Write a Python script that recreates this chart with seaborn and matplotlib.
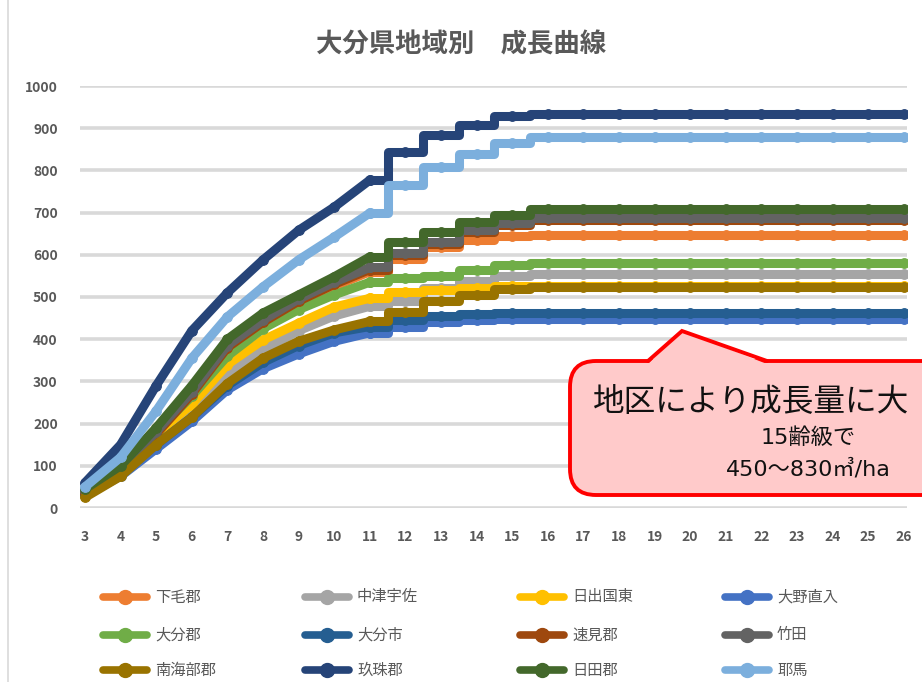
import matplotlib
matplotlib.use("Agg")
import matplotlib.pyplot as plt
import seaborn as sns
import pandas as pd
from matplotlib.lines import Line2D
from matplotlib.patches import FancyBboxPatch, Polygon

sns.set_theme(style="white")
plt.rcParams['font.family'] = ['Noto Sans CJK JP', 'DejaVu Sans']

title = "大分県地域別　成長曲線"
ages = [3, 4, 5, 6, 7, 8, 9, 10, 11, 12, 13, 14, 15, 16, 17, 18, 19, 20, 21, 22, 23, 24, 25, 26]
y_ticks = [0, 100, 200, 300, 400, 500, 600, 700, 800, 900, 1000]

labels = ["下毛郡", "中津宇佐", "日出国東", "大野直入",
          "大分郡", "大分市", "速見郡", "竹田",
          "南海部郡", "玖珠郡", "日田郡", "耶馬"]

v_shimoge = [40, 95, 180, 265, 370, 435, 485, 525, 560, 590, 618, 635, 645, 647, 647, 647, 647, 647, 647, 647, 647, 647, 647, 647]
v_nakatsu = [35, 90, 170, 240, 320, 375, 420, 455, 478, 490, 522, 538, 550, 554, 554, 554, 554, 554, 554, 554, 554, 554, 554, 554]
v_hiji = [35, 90, 175, 245, 340, 398, 438, 476, 497, 512, 516, 522, 525, 525, 525, 525, 525, 525, 525, 525, 525, 525, 525, 525]
v_ono = [30, 75, 140, 205, 280, 330, 365, 395, 415, 428, 440, 445, 448, 448, 448, 448, 448, 448, 448, 448, 448, 448, 448, 448]
v_oitagun = [40, 95, 180, 265, 360, 425, 470, 505, 535, 545, 550, 563, 575, 580, 580, 580, 580, 580, 580, 580, 580, 580, 580, 580]
v_oitashi = [30, 80, 150, 215, 290, 345, 385, 415, 430, 445, 455, 460, 462, 462, 462, 462, 462, 462, 462, 462, 462, 462, 462, 462]
v_hayami = [35, 90, 175, 270, 380, 440, 490, 530, 565, 600, 625, 653, 670, 683, 683, 683, 683, 683, 683, 683, 683, 683, 683, 683]
v_taketa = [40, 95, 180, 275, 385, 445, 495, 535, 570, 605, 630, 658, 675, 688, 688, 688, 688, 688, 688, 688, 688, 688, 688, 688]
v_minamiamabe = [25, 75, 150, 215, 295, 355, 395, 422, 442, 465, 490, 505, 520, 524, 524, 524, 524, 524, 524, 524, 524, 524, 524, 524]
v_kusu = [60, 150, 290, 420, 510, 588, 658, 713, 777, 843, 884, 908, 929, 934, 934, 934, 934, 934, 934, 934, 934, 934, 934, 934]
v_hita = [45, 100, 190, 290, 400, 462, 505, 548, 595, 630, 654, 678, 694, 708, 708, 708, 708, 708, 708, 708, 708, 708, 708, 708]
v_yaba = [50, 120, 230, 355, 453, 524, 588, 642, 699, 765, 808, 838, 865, 880, 880, 880, 880, 880, 880, 880, 880, 880, 880, 880]

series = [v_shimoge, v_nakatsu, v_hiji, v_ono, v_oitagun, v_oitashi,
          v_hayami, v_taketa, v_minamiamabe, v_kusu, v_hita, v_yaba]
colors = ["#ED7D31", "#A5A5A5", "#FFC000", "#4472C4", "#70AD47", "#255E91",
          "#9E480E", "#636363", "#997300", "#264478", "#43682B", "#7CAFDD"]

W, H = 922, 682
fig = plt.figure(figsize=(W / 100, H / 100), dpi=100)
fig.patch.set_facecolor("white")

# plot area
ax = fig.add_axes([80 / W, 1 - 508 / H, (907 - 80) / W, (508 - 86) / H])
ax.set_facecolor("white")

for yv in y_ticks:
    ax.axhline(yv, color="#d9d9d9", lw=2.6, zorder=0)

split = ages.index(11)
for lab, vals, col in zip(labels, series, colors):
    df = pd.DataFrame({"age": ages, "v": vals})
    sns.lineplot(data=df.iloc[:split + 1], x="age", y="v", ax=ax, color=col,
                 lw=6.5, marker="o", ms=7, mec=col, legend=False,
                 solid_capstyle="round", zorder=2)
    sns.lineplot(data=df.iloc[split:], x="age", y="v", ax=ax, color=col,
                 lw=6.5, marker="o", ms=7, mec=col, legend=False,
                 drawstyle="steps-mid", solid_capstyle="round", zorder=2)

ax.set_xlim(2.86, 26.09)
ax.set_ylim(0, 1000)
ax.set_xticks(ages)
ax.set_xticklabels([str(a) for a in ages])
ax.set_yticks(y_ticks)
ax.set_yticklabels([str(t) for t in y_ticks])
ax.tick_params(axis="both", length=0, labelsize=10, labelcolor="#595959")
ax.tick_params(axis="y", pad=16)
ax.tick_params(axis="x", pad=16)
for lab in ax.get_xticklabels() + ax.get_yticklabels():
    lab.set_fontweight("bold")
ax.set_xlabel("")
ax.set_ylabel("")
for s in ax.spines.values():
    s.set_visible(False)

# title
fig.text(461 / W, 1 - 45 / H, title, ha="center", va="center",
         fontsize=19, fontweight="bold", color="#595959")

# legend (manual grid 3 rows x 4 cols)
col_x = [103, 305, 520, 725]
row_y = [597, 635, 670]
for i, (lab, col) in enumerate(zip(labels, colors)):
    r, c = divmod(i, 4)
    x0 = col_x[c]
    y0 = 1 - row_y[r] / H
    fig.add_artist(Line2D([x0 / W, (x0 + 44) / W], [y0, y0], color=col, lw=5.5,
                          transform=fig.transFigure))
    fig.add_artist(Line2D([(x0 + 22) / W], [y0], color=col, marker="o", ms=10,
                          transform=fig.transFigure))
    fig.text((x0 + 52) / W, y0, lab, ha="left", va="center", fontsize=11,
             color="#595959")

# overlay for callout and border
ov = fig.add_axes([0, 0, 1, 1], facecolor="none")
ov.set_xlim(0, W)
ov.set_ylim(H, 0)
ov.axis("off")
ov.plot([8, 8], [0, H], color="#d9d9d9", lw=1.2)

box = FancyBboxPatch((570, 361), 420, 134, boxstyle="round,pad=0,rounding_size=26",
                     fc="#FFCACA", ec="#FF0000", lw=2.8, zorder=5)
ov.add_patch(box)
tri = Polygon([(648, 364), (682, 331), (767, 364)], closed=True, fc="#FFCACA",
              ec="none", zorder=6)
ov.add_patch(tri)
ov.plot([648, 682, 767], [361, 331, 361], color="#FF0000", lw=2.8, zorder=7,
        solid_joinstyle="miter")

ov.text(593, 402, "地区により成長量に大", ha="left", va="center",
        fontsize=22.8, color="#111111", zorder=8)
ov.text(808, 438, "15齢級で", ha="center", va="center", fontsize=16,
        color="#111111", zorder=8, family=["DejaVu Sans", "Noto Sans CJK JP"])
ov.text(808, 469, "450～830㎥/ha", ha="center", va="center", fontsize=16,
        color="#111111", zorder=8, family=["DejaVu Sans", "Noto Sans CJK JP"])

fig.savefig("out.png", dpi=100)
